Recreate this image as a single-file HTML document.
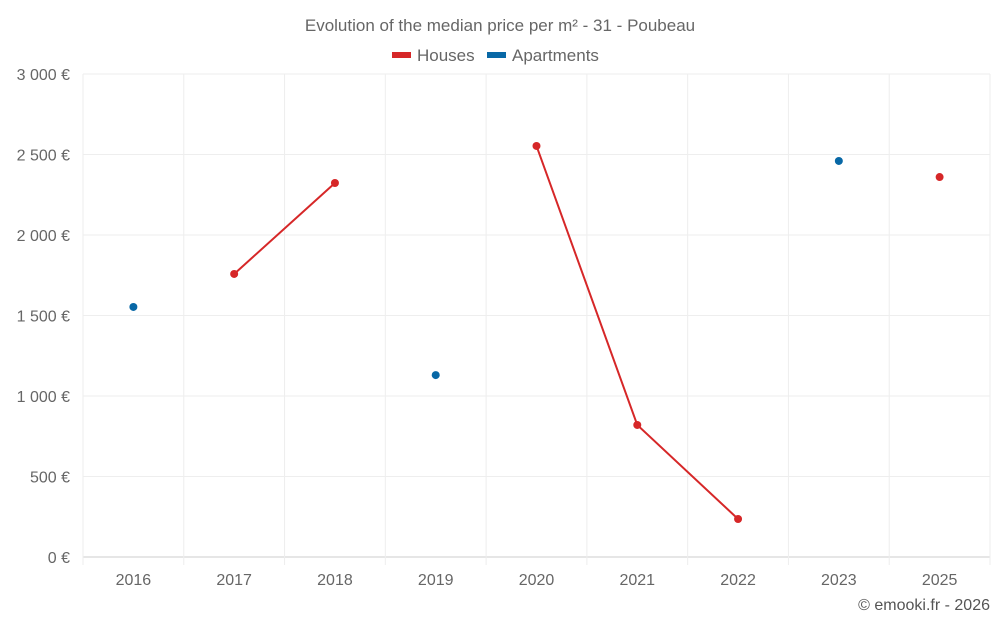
<!DOCTYPE html>
<html><head><meta charset="utf-8"><style>
body{margin:0;background:#fff;font-family:"Liberation Sans",sans-serif;}
svg text{font-family:"Liberation Sans",sans-serif;}
</style></head><body>
<svg id="chart" width="1000" height="625">
<text x="500" y="31" text-anchor="middle" font-size="17" fill="#666">Evolution of the median price per m² - 31 - Poubeau</text>
<g>
<g><rect x="392" y="52" width="19" height="6" fill="#d62728"/><text x="417" y="61" font-size="17" fill="#666">Houses</text></g>
<g><rect x="487" y="52" width="19" height="6" fill="#0868a6"/><text x="512" y="61" font-size="17" fill="#666">Apartments</text></g>
</g>
<g id="grid"></g><g id="axes"></g><g id="series"></g>
<text x="990" y="610" text-anchor="end" font-size="16" fill="#555">© emooki.fr - 2026</text>
</svg>
<script>
const categories=["2016","2017","2018","2019","2020","2021","2022","2023","2025"];
const houses=[null,1758,2323,null,2553,820,236,null,2360];
const apartments=[1553,null,null,1130,null,null,null,2460,null];
const yTicks=[0,500,1000,1500,2000,2500,3000];
const yLabels=["0 €","500 €","1 000 €","1 500 €","2 000 €","2 500 €","3 000 €"];
const L=83,R=990,T=74,B=557,yMax=3000;
const bw=(R-L)/categories.length;
const x=i=>L+bw*(i+0.5);
const y=v=>B-(v/yMax)*(B-T);
const ns="http://www.w3.org/2000/svg";
function mk(t,a,p){const e=document.createElementNS(ns,t);for(const k in a)e.setAttribute(k,a[k]);p.appendChild(e);return e;}
const g=document.getElementById('grid'),ax=document.getElementById('axes'),s=document.getElementById('series');
yTicks.forEach((v,i)=>{
 const l=mk('line',{x1:L,x2:R,y1:y(v),y2:y(v),stroke:v===0?'#ccc':'#eee'},g);
 
 
 const t=mk('text',{x:70,y:y(v)+6,'text-anchor':'end','font-size':16,fill:'#666'},ax);
 t.textContent=yLabels[i];
 
 
});
for(let i=0;i<=categories.length;i++){
 const l=mk('line',{x1:L+bw*i,x2:L+bw*i,y1:T,y2:B+8,stroke:'#eee'},g);
 
 
}
categories.forEach((c,i)=>{
 const t=mk('text',{x:x(i),y:585,'text-anchor':'middle','font-size':16,fill:'#666'},ax);
 t.textContent=c;
 
 
});
function draw(data,color,name){
 let seg=[];
 const flush=()=>{if(seg.length>1){const p=mk('polyline',{points:seg.join(' '),fill:'none',stroke:color,'stroke-width':2},s);
  
  }seg=[];};
 data.forEach((v,i)=>{if(v==null){flush();return;}seg.push(x(i)+','+y(v));});
 flush();
 data.forEach((v,i)=>{if(v==null)return;
  const c=mk('circle',{cx:x(i),cy:y(v),r:4,fill:color},s);
  
  });
}
draw(houses,'#d62728','houses');
draw(apartments,'#0868a6','apartments');
</script>
</body></html>
